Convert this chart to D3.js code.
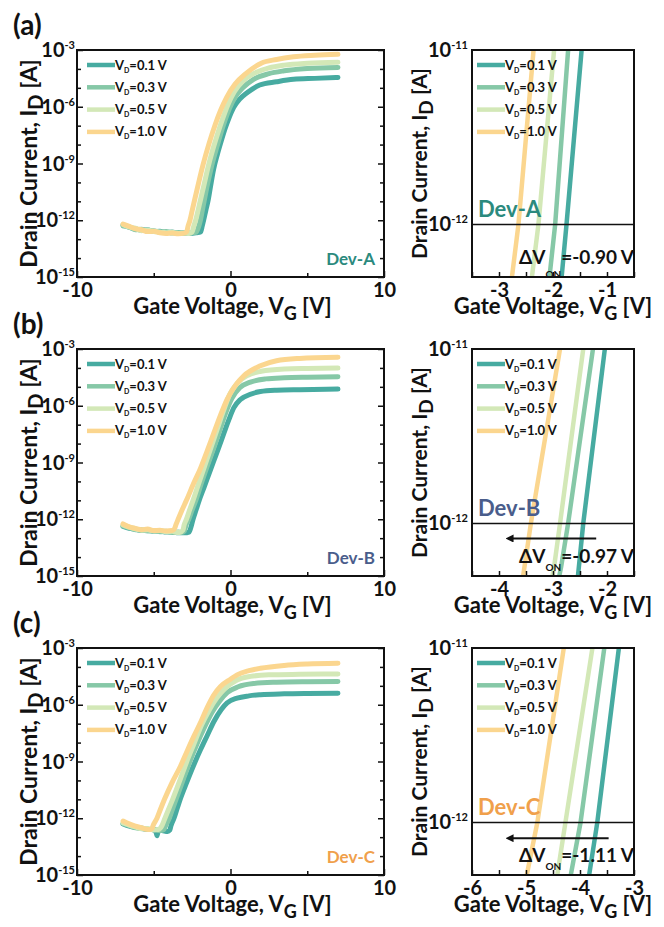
<!DOCTYPE html>
<html>
<head>
<meta charset="utf-8">
<script src="https://cdn.jsdelivr.net/npm/d3@7"></script>
<style>
  body { margin: 0; background: #fff; }
  svg { display: block; }
  text { font-family: Lato, "Open Sans", sans-serif; font-weight: bold; fill: #111; }
</style>
</head>
<body>
<svg id="fig" width="664" height="927"></svg>
<script>
// ---- data: [gate voltage (V), log10 drain current (A)] ----
const VD_LABELS = ["0.1", "0.3", "0.5", "1.0"];
const COLORS = ["#47aba1", "#86c8a7", "#d3e8b7", "#fbd68f"];

// full sweeps, Dev-A
const devA_01 = [[-7,-12.25],[-6.6,-12.38],[-6.2,-12.45],[-5.8,-12.52],[-5.4,-12.5],[-5,-12.6],[-4.6,-12.58],[-4.2,-12.65],[-3.8,-12.62],[-3.4,-12.68],[-3,-12.66],[-2.6,-12.7],[-2.2,-12.66],[-1.95,-12.62],[-1.84,-12.3],[-1.75,-12.0],[-1.6,-11.45],[-1.47,-11.0],[-1.3,-10.2],[-1.1,-9.3],[-0.85,-8.5],[-0.6,-7.8],[-0.35,-7.15],[-0.1,-6.6],[0.2,-6.05],[0.6,-5.6],[1.1,-5.25],[1.9,-4.85],[3,-4.68],[4.1,-4.55],[5.5,-4.5],[7,-4.45]];
const devA_03 = [[-7,-12.3],[-6.6,-12.35],[-6.2,-12.5],[-5.8,-12.48],[-5.4,-12.58],[-5,-12.55],[-4.6,-12.64],[-4.2,-12.6],[-3.8,-12.68],[-3.4,-12.65],[-3,-12.7],[-2.6,-12.66],[-2.25,-12.64],[-2.06,-12.3],[-1.96,-12.0],[-1.84,-11.5],[-1.72,-11.0],[-1.5,-10.1],[-1.25,-9.2],[-0.95,-8.3],[-0.65,-7.45],[-0.35,-6.7],[-0.05,-6.05],[0.3,-5.5],[0.8,-5.0],[1.5,-4.55],[2.5,-4.25],[3.5,-4.1],[5,-3.98],[7,-3.92]];
const devA_05 = [[-7,-12.22],[-6.6,-12.36],[-6.2,-12.42],[-5.8,-12.55],[-5.4,-12.52],[-5,-12.6],[-4.6,-12.62],[-4.2,-12.66],[-3.8,-12.64],[-3.4,-12.7],[-3,-12.68],[-2.7,-12.7],[-2.5,-12.62],[-2.39,-12.3],[-2.27,-12.0],[-2.12,-11.5],[-1.98,-11.0],[-1.72,-10.1],[-1.45,-9.15],[-1.15,-8.25],[-0.85,-7.45],[-0.5,-6.6],[-0.15,-5.85],[0.25,-5.2],[0.8,-4.65],[1.5,-4.25],[2.5,-3.95],[3.5,-3.8],[5,-3.7],[7,-3.65]];
const devA_10 = [[-7,-12.2],[-6.6,-12.32],[-6.2,-12.45],[-5.8,-12.5],[-5.4,-12.6],[-5,-12.58],[-4.6,-12.66],[-4.2,-12.7],[-3.8,-12.68],[-3.4,-12.72],[-3,-12.68],[-2.85,-12.6],[-2.76,-12.3],[-2.64,-12.0],[-2.5,-11.5],[-2.36,-11.0],[-2.1,-10.1],[-1.8,-9.1],[-1.4,-7.95],[-1.0,-6.95],[-0.65,-6.2],[-0.25,-5.5],[0.3,-4.8],[1,-4.25],[2,-3.7],[3,-3.5],[4.1,-3.36],[5.5,-3.28],[7,-3.23]];

// full sweeps, Dev-B
const devB_01 = [[-7,-12.38],[-6.6,-12.48],[-6.2,-12.52],[-5.8,-12.6],[-5.4,-12.58],[-5,-12.64],[-4.6,-12.62],[-4.2,-12.68],[-3.8,-12.66],[-3.4,-12.72],[-3,-12.72],[-2.7,-12.68],[-2.57,-12.4],[-2.44,-12.0],[-2.24,-11.5],[-2.04,-11.0],[-1.74,-10.35],[-1.4,-9.6],[-1.09,-8.92],[-0.75,-8.18],[-0.43,-7.45],[-0.1,-6.72],[0.22,-6.1],[0.6,-5.7],[0.87,-5.55],[1.95,-5.25],[3,-5.18],[4.5,-5.15],[7,-5.12]];
const devB_03 = [[-7,-12.35],[-6.6,-12.45],[-6.2,-12.55],[-5.8,-12.55],[-5.4,-12.62],[-5,-12.6],[-4.6,-12.66],[-4.2,-12.64],[-3.8,-12.7],[-3.4,-12.68],[-3.2,-12.7],[-3.0,-12.62],[-2.9,-12.3],[-2.72,-12.0],[-2.5,-11.5],[-2.26,-11.0],[-1.9,-10.1],[-1.5,-9.15],[-1.1,-8.25],[-0.7,-7.3],[-0.3,-6.35],[0.1,-5.6],[0.6,-5.05],[1.3,-4.75],[2.3,-4.58],[3.5,-4.52],[5,-4.49],[7,-4.47]];
const devB_05 = [[-7,-12.3],[-6.6,-12.42],[-6.2,-12.5],[-5.8,-12.58],[-5.4,-12.56],[-5,-12.62],[-4.6,-12.6],[-4.2,-12.66],[-3.8,-12.64],[-3.5,-12.7],[-3.3,-12.7],[-3.1,-12.58],[-3.02,-12.3],[-2.87,-12.0],[-2.66,-11.5],[-2.44,-11.0],[-2.05,-10.05],[-1.65,-9.1],[-1.25,-8.15],[-0.85,-7.2],[-0.45,-6.25],[-0.05,-5.4],[0.45,-4.8],[1.1,-4.4],[2,-4.18],[3.5,-4.06],[5,-4.03],[7,-4.01]];
const devB_10 = [[-7,-12.25],[-6.6,-12.4],[-6.2,-12.48],[-5.8,-12.55],[-5.4,-12.52],[-5,-12.6],[-4.6,-12.58],[-4.2,-12.62],[-3.8,-12.6],[-3.65,-12.5],[-3.56,-12.3],[-3.41,-12.0],[-3.15,-11.5],[-2.87,-11.0],[-2.4,-10.1],[-1.95,-9.3],[-1.5,-8.35],[-1.09,-7.45],[-0.65,-6.5],[-0.22,-5.66],[0.3,-4.95],[0.87,-4.42],[1.95,-3.89],[3,-3.62],[4.5,-3.5],[7,-3.44]];

// full sweeps, Dev-C
const devC_01 = [[-7,-12.3],[-6.6,-12.42],[-6.2,-12.48],[-5.8,-12.55],[-5.4,-12.58],[-5,-12.62],[-4.85,-12.75],[-4.78,-12.93],[-4.7,-12.62],[-4.4,-12.66],[-4.1,-12.7],[-3.95,-12.62],[-3.88,-12.4],[-3.68,-12.0],[-3.48,-11.5],[-3.28,-11.0],[-2.85,-10.1],[-2.4,-9.2],[-1.95,-8.37],[-1.5,-7.6],[-1.09,-6.9],[-0.6,-6.25],[-0.22,-5.9],[0.43,-5.65],[1.2,-5.53],[1.95,-5.47],[3.5,-5.42],[5,-5.4],[7,-5.39]];
const devC_03 = [[-7,-12.28],[-6.6,-12.38],[-6.2,-12.5],[-5.8,-12.52],[-5.4,-12.6],[-5,-12.58],[-4.6,-12.66],[-4.35,-12.6],[-4.23,-12.4],[-3.99,-12.0],[-3.77,-11.5],[-3.55,-11.0],[-3.1,-10.0],[-2.65,-9.0],[-2.2,-8.1],[-1.7,-7.2],[-1.2,-6.4],[-0.7,-5.8],[-0.2,-5.35],[0.5,-5.05],[1.5,-4.88],[3,-4.81],[5,-4.78],[7,-4.77]];
const devC_05 = [[-7,-12.25],[-6.6,-12.36],[-6.2,-12.46],[-5.8,-12.55],[-5.4,-12.54],[-5,-12.62],[-4.7,-12.6],[-4.55,-12.5],[-4.47,-12.4],[-4.27,-12.0],[-4.02,-11.5],[-3.77,-11.0],[-3.3,-10.0],[-2.85,-9.0],[-2.4,-8.1],[-1.9,-7.1],[-1.4,-6.3],[-0.9,-5.65],[-0.3,-5.1],[0.4,-4.7],[1.3,-4.5],[2.5,-4.42],[4.5,-4.39],[7,-4.37]];
const devC_10 = [[-7,-12.15],[-6.6,-12.3],[-6.2,-12.42],[-5.8,-12.5],[-5.5,-12.58],[-5.2,-12.6],[-5.1,-12.52],[-5.05,-12.4],[-4.79,-12.0],[-4.55,-11.5],[-4.3,-11.0],[-3.8,-10.1],[-3.26,-9.25],[-2.8,-8.4],[-2.39,-7.67],[-1.9,-6.85],[-1.52,-6.15],[-1.1,-5.5],[-0.65,-5.04],[0,-4.65],[0.43,-4.42],[1.2,-4.2],[1.95,-4.07],[3.5,-3.92],[5,-3.85],[7,-3.81]];

// zoomed turn-on region
const zoomA_01 = [[-1.87,-12.4],[-1.75,-12.0],[-1.47,-11.0],[-1.44,-10.9]];
const zoomA_03 = [[-2.10,-12.4],[-1.96,-12.0],[-1.72,-11.0],[-1.70,-10.9]];
const zoomA_05 = [[-2.43,-12.4],[-2.27,-12.0],[-1.98,-11.0],[-1.95,-10.9]];
const zoomA_10 = [[-2.80,-12.4],[-2.64,-12.0],[-2.36,-11.0],[-2.33,-10.9]];
const zoomB_01 = [[-2.57,-12.4],[-2.44,-12.0],[-2.04,-11.0],[-2.00,-10.9]];
const zoomB_03 = [[-2.95,-12.4],[-2.85,-12.25],[-2.72,-12.0],[-2.26,-11.0],[-2.21,-10.9]];
const zoomB_05 = [[-3.07,-12.4],[-2.98,-12.25],[-2.87,-12.0],[-2.44,-11.0],[-2.40,-10.9]];
const zoomB_10 = [[-3.60,-12.4],[-3.41,-12.0],[-2.87,-11.0],[-2.82,-10.9]];
const zoomC_01 = [[-3.88,-12.4],[-3.68,-12.0],[-3.28,-11.0],[-3.24,-10.9]];
const zoomC_03 = [[-4.23,-12.4],[-3.99,-12.0],[-3.55,-11.0],[-3.51,-10.9]];
const zoomC_05 = [[-4.47,-12.4],[-4.27,-12.0],[-3.77,-11.0],[-3.72,-10.9]];
const zoomC_10 = [[-5.05,-12.4],[-4.79,-12.0],[-4.30,-11.0],[-4.25,-10.9]];

const FULL_X_TICKS = [-10, 0, 10];
const FULL_X_MINOR = [-5, 5];
const FULL_Y_EXP = [-3, -6, -9, -12, -15];
const FULL_Y_MINOR = [-4, -5, -7, -8, -10, -11, -13, -14];
const ZOOM_Y_EXP = [-11, -12];

const PANELS = [
  { tag: "(a)", dev: "Dev-A", devColor: "#2b8a7e", dv: "-0.90",
    full: [devA_01, devA_03, devA_05, devA_10], zoom: [zoomA_01, zoomA_03, zoomA_05, zoomA_10],
    zx: [-3.5, -0.5], zticks: [-3, -2, -1], arrow: null, onDy: 14 },
  { tag: "(b)", dev: "Dev-B", devColor: "#4a5d8b", dv: "-0.97",
    full: [devB_01, devB_03, devB_05, devB_10], zoom: [zoomB_01, zoomB_03, zoomB_05, zoomB_10],
    zx: [-4.5, -1.5], zticks: [-4, -3, -2], arrow: [[-2.2, -12.086], [-3.76, -12.086]], onDy: 8 },
  { tag: "(c)", dev: "Dev-C", devColor: "#f0a04b", dv: "-1.11",
    full: [devC_01, devC_03, devC_05, devC_10], zoom: [zoomC_01, zoomC_03, zoomC_05, zoomC_10],
    zx: [-6, -3], zticks: [-6, -5, -4, -3], arrow: [[-3.47, -12.09], [-5.26, -12.09]], onDy: 8 }
];

// ---- layout ----
const ROW_TOP = [50, 349, 648];
const H = 227;
const LX = [77, 384];
const RX = [472, 634];

const svg = d3.select("#fig");
svg.append("defs").append("marker")
  .attr("id", "head").attr("viewBox", "0 0 10 10").attr("refX", 2).attr("refY", 5)
  .attr("markerWidth", 4).attr("markerHeight", 4).attr("orient", "auto-start-reverse")
  .append("path").attr("d", "M0,0 L10,5 L0,10 z").attr("fill", "#111");

// text with sub/superscript pieces: [str, size, baseline offset]
function rich(parent, x, y, parts, size, anchor, rotate) {
  const t = parent.append("text").attr("font-size", size).attr("text-anchor", anchor || "start");
  if (rotate) t.attr("transform", `translate(${x},${y}) rotate(-90)`);
  else t.attr("x", x).attr("y", y);
  let shift = 0;
  parts.forEach(p => {
    const [str, sz, off] = typeof p === "string" ? [p, size, 0] : p;
    t.append("tspan").attr("font-size", sz).attr("dy", off - shift).text(str);
    shift = off;
  });
  return t;
}

function styleAxis(sel) {
  sel.select(".domain").remove();
  sel.selectAll(".tick line").attr("stroke", "#111").attr("stroke-width", 1.5);
  sel.selectAll(".tick text").attr("font-size", 20).attr("fill", "#111")
    .attr("font-family", "Lato, 'Open Sans', sans-serif").attr("font-weight", "bold");
}

function legend(g, x0, top) {
  VD_LABELS.forEach((v, i) => {
    const yy = top + 15 + i * 22.3;
    g.append("line").attr("x1", x0).attr("x2", x0 + 28).attr("y1", yy).attr("y2", yy)
      .attr("stroke", COLORS[i]).attr("stroke-width", 4.5);
    rich(g, x0 + 28, yy + 4.5, ["V", ["D", 7, 3], [`=${v} V`, 13, 0]], 13);
  });
}

function frame(g, x0, x1, top) {
  g.append("rect").attr("x", x0).attr("y", top).attr("width", x1 - x0).attr("height", H)
    .attr("fill", "none").attr("stroke", "#111").attr("stroke-width", 2);
}

function drawFull(p, top) {
  const g = svg.append("g");
  const x = d3.scaleLinear().domain([-10, 10]).range(LX);
  const y = d3.scaleLog().domain([1e-15, 1e-3]).range([top + H, top]);
  const line = d3.line().x(d => x(d[0])).y(d => y(10 ** d[1])).curve(d3.curveMonotoneX);

  p.full.forEach((s, i) => g.append("path").attr("d", line(s)).attr("fill", "none")
    .attr("stroke", COLORS[i]).attr("stroke-width", 5)
    .attr("stroke-linejoin", "round").attr("stroke-linecap", "round"));

  g.append("g").attr("transform", `translate(0,${top + H})`)
    .call(d3.axisBottom(x).tickValues(FULL_X_TICKS).tickFormat(d => String(d))
      .tickSizeInner(-6).tickSizeOuter(0).tickPadding(6)).call(styleAxis);
  g.append("g").attr("transform", `translate(0,${top + H})`)
    .call(d3.axisBottom(x).tickValues(FULL_X_MINOR).tickFormat("").tickSizeInner(-4).tickSizeOuter(0)).call(styleAxis);
  [[d3.axisLeft, LX[0]], [d3.axisRight, LX[1]]].forEach(([ax, px]) => {
    g.append("g").attr("transform", `translate(${px},0)`)
      .call(ax(y).tickValues(FULL_Y_EXP.map(e => 10 ** e)).tickFormat("").tickSizeInner(-6).tickSizeOuter(0)).call(styleAxis);
    g.append("g").attr("transform", `translate(${px},0)`)
      .call(ax(y).tickValues(FULL_Y_MINOR.map(e => 10 ** e)).tickFormat("").tickSizeInner(-4).tickSizeOuter(0)).call(styleAxis);
  });
  FULL_Y_EXP.forEach(e => rich(g, LX[0] - 2, y(10 ** e) + 7, ["10", [String(e), 11, -8]], 20, "end"));

  frame(g, LX[0], LX[1], top);
  legend(g, 87, top);
  g.append("text").attr("x", LX[1] - 9).attr("y", top + H - 12).attr("text-anchor", "end")
    .attr("font-size", 17).style("fill", p.devColor).text(p.dev);

  rich(g, (LX[0] + LX[1]) / 2 + 2, top + H + 37, ["Gate Voltage, V", ["G", 18, 6], [" [V]", 22, 0]], 22, "middle");
  rich(g, 37, top + H / 2, ["Drain Current, I", ["D", 20, 6], [" [A]", 23, 0]], 23, "middle", true);
  g.append("text").attr("x", 13).attr("y", top - 15).attr("font-size", 28).text(p.tag);
}

function drawZoom(p, top) {
  const g = svg.append("g");
  const x = d3.scaleLinear().domain(p.zx).range(RX);
  const y = d3.scaleLog().domain([5e-13, 1e-11]).range([top + H, top]);
  const line = d3.line().x(d => x(d[0])).y(d => y(10 ** d[1]));
  const clipId = "clip" + p.tag.replace(/\W/g, "");
  g.append("clipPath").attr("id", clipId).append("rect")
    .attr("x", RX[0]).attr("y", top).attr("width", RX[1] - RX[0]).attr("height", H);

  const lines = g.append("g").attr("clip-path", `url(#${clipId})`);
  p.zoom.forEach((s, i) => lines.append("path").attr("d", line(s)).attr("fill", "none")
    .attr("stroke", COLORS[i]).attr("stroke-width", 4.5).attr("stroke-linejoin", "round"));

  // reference line at 1e-12
  g.append("line").attr("x1", RX[0]).attr("x2", RX[1]).attr("y1", y(1e-12)).attr("y2", y(1e-12))
    .attr("stroke", "#111").attr("stroke-width", 1.5);

  const halfTicks = d3.range(Math.ceil(p.zx[0] * 2), Math.floor(p.zx[1] * 2) + 1).map(d => d / 2);
  g.append("g").attr("transform", `translate(0,${top + H})`)
    .call(d3.axisBottom(x).tickValues(halfTicks).tickFormat(d => p.zticks.includes(d) ? String(d) : "")
      .tickSizeInner(-5).tickSizeOuter(0).tickPadding(6)).call(styleAxis);
  ZOOM_Y_EXP.forEach(e => rich(g, RX[0] - 4, y(10 ** e) + 7, ["10", [String(e), 11, -8]], 20, "end"));

  frame(g, RX[0], RX[1], top);
  legend(g, 477, top);
  g.append("text").attr("x", 478).attr("y", top + 167).attr("font-size", 22)
    .style("fill", p.devColor).text(p.dev);

  if (p.arrow) {
    g.append("line")
      .attr("x1", x(p.arrow[0][0])).attr("y1", y(10 ** p.arrow[0][1]))
      .attr("x2", x(p.arrow[1][0])).attr("y2", y(10 ** p.arrow[1][1]))
      .attr("stroke", "#111").attr("stroke-width", 2).attr("marker-end", "url(#head)");
  }
  rich(g, 519, top + 214, ["\u0394V", ["ON", 10, p.onDy], [`=${p.dv} V`, 19, 0]], 19);

  rich(g, (RX[0] + RX[1]) / 2, top + H + 37, ["Gate Voltage, V", ["G", 18, 6], [" [V]", 22, 0]], 22, "middle");
  rich(g, 427, top + H / 2, ["Drain Current, I", ["D", 19, 6], [" [A]", 21, 0]], 21, "middle", true);
}

PANELS.forEach((p, i) => {
  drawFull(p, ROW_TOP[i]);
  drawZoom(p, ROW_TOP[i]);
});
</script>
</body>
</html>
